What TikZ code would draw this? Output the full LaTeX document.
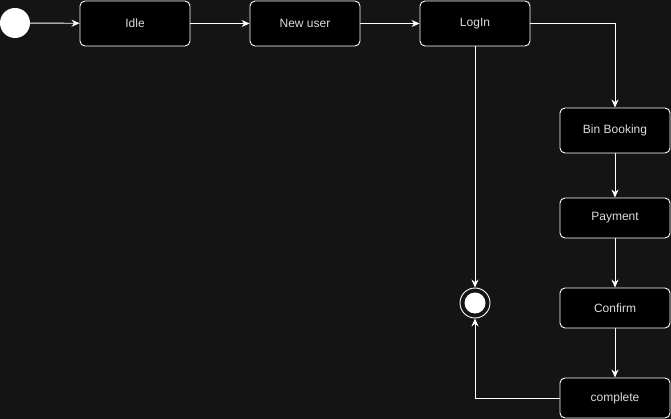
\documentclass[tikz,border=0pt]{standalone}
\usepackage{fontspec}
\setmainfont{Liberation Sans}
\usetikzlibrary{arrows.meta}
\definecolor{bgdark}{HTML}{141414}
\definecolor{txtgray}{HTML}{DCDCDC}

\begin{document}
\begin{tikzpicture}[x=1pt,y=-1pt,
        state/.style={draw=white, fill=black, rounded corners=5pt, line width=0.9pt,
            minimum width=110pt, text=txtgray, font=\fontsize{12}{14}\selectfont},
        flow/.style={draw=white, line width=0.9pt, -{Stealth[length=8pt,width=7pt]}}]
        % background
        \fill[bgdark] (0,0) rectangle (671,419);
        \useasboundingbox (0,0) rectangle (671,419);

        % top row
        \node[circle, fill=white, minimum size=30pt, inner sep=0pt] (start) at (15,23) {};
        \node[state, minimum height=45pt] (idle) at (135,23.5) {Idle};
        \node[state, minimum height=45pt] (newuser) at (305,23.5) {New user};
        \node[state, minimum height=45pt] (login) at (475,23.5) {LogIn};

        % right column
        \node[state, minimum height=45pt] (booking) at (615,130.5) {Bin Booking};
        \node[state, minimum height=40pt] (payment) at (615,218) {Payment};
        \node[state, minimum height=40pt] (confirm) at (615,308) {Confirm};
        \node[state, minimum height=40pt] (complete) at (615,398) {complete};

        % final state
        \node[circle, draw=white, line width=0.9pt, minimum size=30pt, inner sep=0pt] (final) at (475,303) {};
        \node[circle, fill=white, minimum size=21pt, inner sep=0pt] at (final) {};

        % transitions
        \draw[flow] (start) -- (idle);
        \draw[flow] (idle) -- (newuser);
        \draw[flow] (newuser) -- (login);
        \draw[flow] (login.east) -| (booking.north);
        \draw[flow] (booking) -- (payment);
        \draw[flow] (payment) -- (confirm);
        \draw[flow] (confirm) -- (complete);
        \draw[flow] (login) -- (final);
        \draw[flow] (complete.west) -| (final.south);
    \end{tikzpicture}
\end{document}
